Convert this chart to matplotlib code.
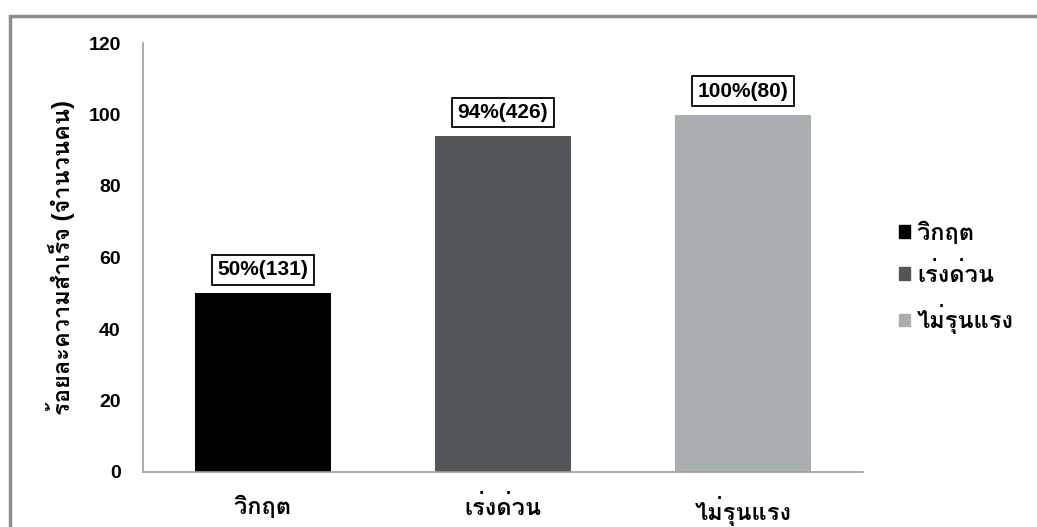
import matplotlib
matplotlib.use("Agg")
import matplotlib.pyplot as plt
from matplotlib import font_manager as fm
from matplotlib.ft2font import FT2Font
from matplotlib.patches import Rectangle

categories = ["วิกฤต", "เร่งด่วน", "ไม่รุนแรง"]
values = [50, 94, 100]
labels = ["50%(131)", "94%(426)", "100%(80)"]
colors = ["#000000", "#53575a", "#a9aeb0"]
yticks = [0, 20, 40, 60, 80, 100, 120]
ylabel = "ร้อยละความสำเร็จ (จำนวนคน)"

# find fonts with Thai glyphs, prefer Loma (Tahoma-like)
names = []
for f in fm.fontManager.ttflist:
    try:
        cmap = FT2Font(f.fname).get_charmap()
    except Exception:
        continue
    if 0x0E01 in cmap and 0x0E27 in cmap and 0x0E33 in cmap and f.name not in names:
        names.append(f.name)
for pref in ["Waree", "Loma"]:
    if pref in names:
        names.remove(pref)
        names.insert(0, pref)
plt.rcParams["font.family"] = ["Liberation Sans"] + names[:3] + ["DejaVu Sans"]

fig = plt.figure(figsize=(10.37, 5.27), dpi=100)
W, H = 1037, 527
ax = fig.add_axes([143 / W, 1 - 472 / H, 720 / W, 429 / H])

x = list(range(len(categories)))
ax.bar(x, values, width=0.57, color=colors, zorder=2)
ax.set_xlim(-0.5, 2.5)
ax.set_ylim(0, 120)
ax.set_yticks(yticks)
ax.set_yticklabels([str(t) for t in yticks], fontsize=14, fontweight="bold")
ax.set_xticks(x)
ax.set_xticklabels(categories, fontsize=17, fontweight="bold")
ax.tick_params(axis="both", length=0)
ax.tick_params(axis="y", pad=16)
ax.tick_params(axis="x", pad=17)
for s in ["top", "right"]:
    ax.spines[s].set_visible(False)
for s in ["left", "bottom"]:
    ax.spines[s].set_color("#a0a0a0")
    ax.spines[s].set_linewidth(1.2)
ax.set_ylabel(ylabel, fontsize=17, fontweight="bold", labelpad=10)

for xi, v, lab in zip(x, values, labels):
    ax.annotate(lab, (xi, v), xytext=(0, 10), textcoords="offset points",
                ha="center", va="bottom", fontsize=15, fontweight="bold",
                bbox=dict(boxstyle="square,pad=0.25", fc="white", ec="black", lw=1.3))

handles = [Rectangle((0, 0), 1, 1, color=c) for c in colors]
fig.legend(handles, categories, loc="center left",
           bbox_to_anchor=(878 / W, 1 - 278 / H), frameon=False,
           prop=dict(size=17, weight="bold"), handlelength=0.45, handleheight=0.45,
           handletextpad=0.3, labelspacing=0.75)

# figure frame (cropped at right/bottom)
fig.patches.append(Rectangle((10 / W, -0.1), 1.2, 1 - 16 / H + 0.1, transform=fig.transFigure,
                             fill=False, ec="#8a8d8f", lw=2.5))
fig.savefig("out.png", dpi=100)
